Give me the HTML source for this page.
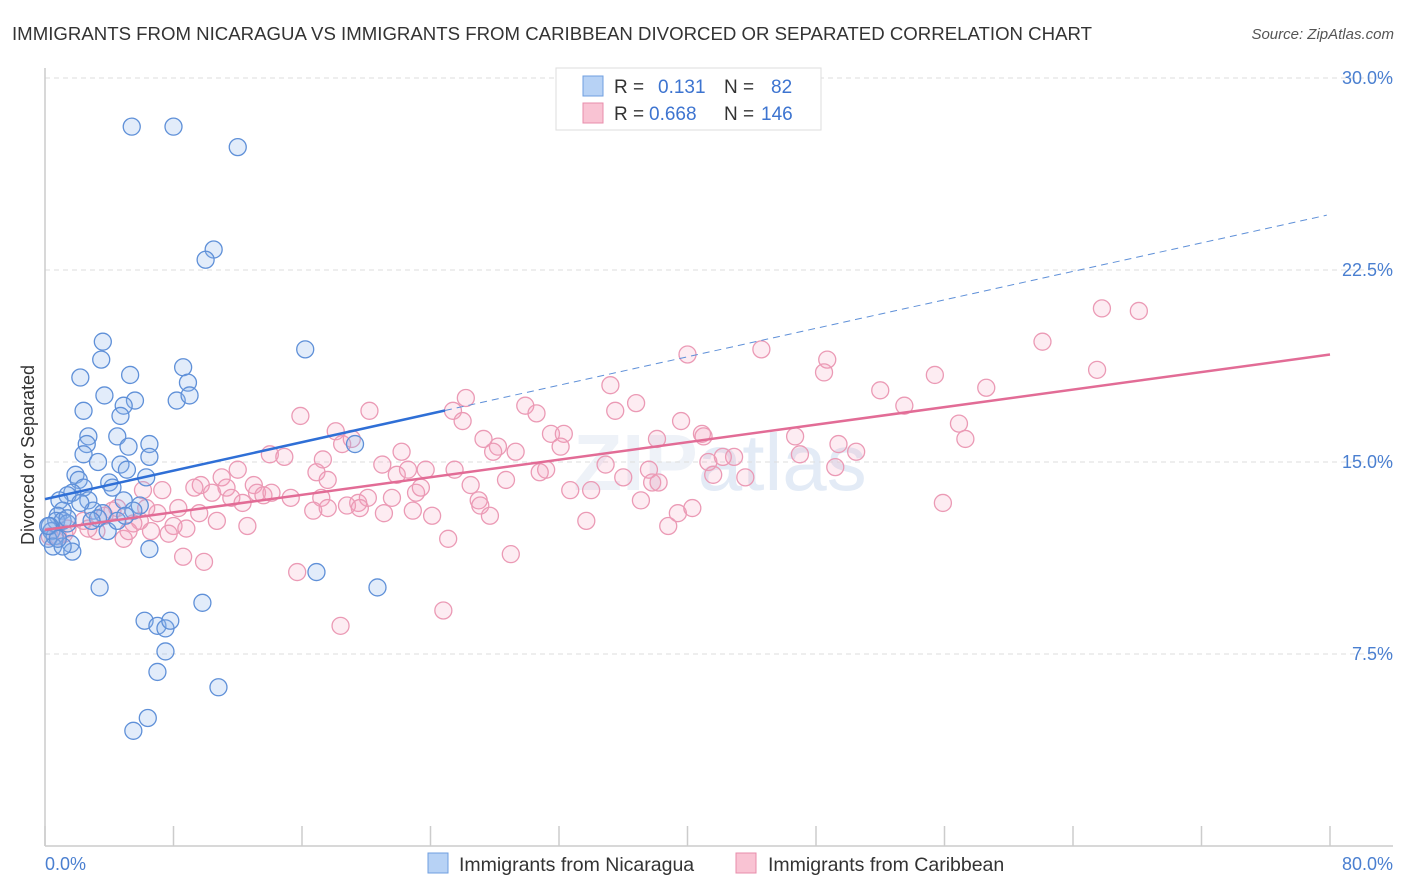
<!DOCTYPE html>
<html><head><meta charset="utf-8"><style>
body{margin:0;background:#fff;font-family:"Liberation Sans",sans-serif}
svg{display:block}
</style></head><body>
<svg id="chart" width="1406" height="892" xmlns="http://www.w3.org/2000/svg">
<text x="12" y="40" font-size="18.6" fill="#333" textLength="1080" lengthAdjust="spacingAndGlyphs">IMMIGRANTS FROM NICARAGUA VS IMMIGRANTS FROM CARIBBEAN DIVORCED OR SEPARATED CORRELATION CHART</text>
<text x="1394" y="39" font-size="15" fill="#555" font-style="italic" text-anchor="end">Source: ZipAtlas.com</text>
<text x="0" y="0" transform="translate(34,455) rotate(-90)" font-size="18" fill="#333" text-anchor="middle">Divorced or Separated</text>
<text x="720" y="490" font-size="80" fill="#eef2f8" text-anchor="middle" font-weight="bold">ZIP<tspan font-weight="normal" fill="#e3ebf6">atlas</tspan></text>
<g id="grid"></g><g id="axes"></g><g id="pts"></g><g id="trends"></g>
<g>
<rect x="556" y="68" width="265" height="62" fill="#fff" stroke="#ddd"/>
<rect x="583" y="76" width="20" height="20" fill="#b7d2f5" stroke="#6f9fe0"/>
<rect x="583" y="103" width="20" height="20" fill="#f9c3d3" stroke="#e88dab"/>
<text x="614" y="93" font-size="19" fill="#333">R = <tspan x="658" fill="#3d74d0">0.131</tspan><tspan x="724" fill="#333">N = </tspan><tspan x="771" fill="#3d74d0">82</tspan></text>
<text x="614" y="120" font-size="19" fill="#333">R = <tspan x="649" fill="#3d74d0">0.668</tspan><tspan x="724" fill="#333">N = </tspan><tspan x="761" fill="#3d74d0">146</tspan></text>
</g>
<g>
<rect x="428" y="853" width="20" height="20" fill="#b7d2f5" stroke="#6f9fe0"/>
<text x="459" y="871" font-size="19.5" fill="#333">Immigrants from Nicaragua</text>
<rect x="736" y="853" width="20" height="20" fill="#f9c3d3" stroke="#e88dab"/>
<text x="768" y="871" font-size="19.5" fill="#333">Immigrants from Caribbean</text>
</g>
</svg>
<script>
const yTicks=[7.5,15,22.5,30];
const yTickLabels=["7.5%","15.0%","22.5%","30.0%"];
const xTicks=[0,8,16,24,32,40,48,56,64,72,80];
const xEndLabels=["0.0%","80.0%"];
const nicX=[5.4,8.0,12.0,10.5,10.0,16.2,3.6,3.5,2.2,5.3,8.6,8.9,8.2,9.0,3.7,5.6,4.9,4.7,2.4,2.7,2.6,4.5,6.5,5.2,6.5,2.4,3.3,4.7,5.1,6.3,1.9,2.1,4.0,4.2,2.4,1.7,1.4,2.7,4.9,5.9,0.9,1.1,3.0,3.6,3.3,0.8,0.7,1.1,0.3,0.4,1.4,2.9,3.9,4.5,5.5,0.6,0.2,0.5,1.6,1.7,1.1,6.5,19.3,16.9,20.7,3.4,6.2,7.0,7.5,7.8,9.8,7.5,7.0,10.8,6.4,5.5,0.8,0.2,1.4,2.2,5.0];
const nicY=[28.1,28.1,27.3,23.3,22.9,19.4,19.7,19.0,18.3,18.4,18.7,18.1,17.4,17.6,17.6,17.4,17.2,16.8,17.0,16.0,15.7,16.0,15.7,15.6,15.2,15.3,15.0,14.9,14.7,14.4,14.5,14.3,14.2,14.0,14.0,13.8,13.7,13.5,13.5,13.3,13.5,13.1,13.1,13.0,12.8,12.9,12.7,12.7,12.5,12.3,12.6,12.7,12.3,12.7,13.1,12.1,12.0,11.7,11.8,11.5,11.7,11.6,15.7,10.7,10.1,10.1,8.8,8.6,8.5,8.8,9.5,7.6,6.8,6.2,5.0,4.5,12.0,12.5,12.8,13.4,12.9];
const carX=[65.8,68.1,62.1,65.5,48.7,48.5,44.6,40.0,55.4,58.6,52.0,53.5,35.2,26.2,25.4,36.8,35.5,29.9,30.6,39.6,26.0,20.2,15.9,18.1,18.5,19.1,27.3,28.2,29.3,31.5,32.3,32.1,27.9,22.2,21.0,17.3,14.0,14.9,16.9,17.6,12.0,11.0,9.7,7.3,6.1,9.3,10.4,11.3,13.0,13.2,13.6,14.1,15.3,17.2,17.6,16.7,18.8,19.5,20.1,21.6,23.1,23.4,21.9,22.6,23.7,25.5,26.5,27.0,27.1,27.7,28.7,31.2,30.8,32.7,34.0,33.7,34.9,36.0,37.6,37.8,37.1,38.2,38.8,39.4,40.3,41.3,41.6,42.2,42.9,43.6,40.9,38.1,41.0,46.7,47.0,49.2,49.4,50.5,56.9,57.3,55.9,11.6,12.3,8.3,9.6,10.7,12.6,8.0,7.0,6.6,5.9,5.5,4.9,5.2,3.2,2.7,4.5,4.2,2.4,1.4,1.2,0.8,0.3,8.6,9.9,15.7,24.8,18.4,29.0,25.1,24.1,22.9,21.1,19.6,7.7,8.8,6.3,3.7];
const carY=[21.0,20.9,19.7,18.6,19.0,18.5,19.4,19.2,18.4,17.9,17.8,17.2,18.0,17.5,17.0,17.3,17.0,17.2,16.9,16.6,16.6,17.0,16.8,16.2,15.7,15.9,15.9,15.6,15.4,16.1,16.1,15.6,15.4,15.4,14.9,15.1,15.3,15.2,14.6,14.3,14.7,14.4,14.1,13.9,13.9,14.0,13.8,14.0,14.1,13.8,13.7,13.8,13.6,13.6,13.2,13.1,13.3,13.4,13.6,13.6,13.8,14.0,14.5,14.7,14.7,14.7,14.1,13.5,13.3,12.9,14.3,14.7,14.6,13.9,13.9,12.7,14.9,14.4,14.7,14.2,13.5,14.2,12.5,13.0,13.2,15.0,14.5,15.2,15.2,14.4,16.1,15.9,16.0,16.0,15.3,14.8,15.7,15.4,16.5,15.9,13.4,13.6,13.4,13.2,13.0,12.7,12.5,12.5,13.0,12.3,12.7,12.6,12.0,12.3,12.3,12.4,13.2,13.1,12.7,12.4,12.2,12.1,12.1,11.3,11.1,10.7,9.2,8.6,11.4,12.0,12.9,13.1,13.0,13.2,12.2,12.4,13.2,12.9];
const nicTrend=[13.55,0.139,24.9,79.8];
const carTrend=[12.35,0.0856,0,80];
const NS="http://www.w3.org/2000/svg";
const sx=v=>45+v/80*1285;
const sy=v=>846-v/30*768;
function mk(tag,parent,attrs){const e=document.createElementNS(NS,tag);for(const k in attrs)e.setAttribute(k,attrs[k]);document.getElementById(parent).appendChild(e);return e;}
yTicks.forEach((t,i)=>{
  const l=mk('line','grid',{x1:45,x2:1393,y1:sy(t),y2:sy(t),stroke:'#ddd','stroke-dasharray':'5,4'});
  
  
  const tx=mk('text','axes',{x:1393,y:sy(t)+6,'font-size':18,fill:'#4a7fd0','text-anchor':'end'});
  tx.textContent=yTickLabels[i];
  
  
});
const yl=mk('line','axes',{x1:45,x2:45,y1:68,y2:846,stroke:'#ccc','stroke-width':1.5});


const xl=mk('line','axes',{x1:45,x2:1393,y1:846,y2:846,stroke:'#ccc','stroke-width':1.5});


xTicks.forEach(t=>{
  const l=mk('line','axes',{x1:sx(t),x2:sx(t),y1:826,y2:846,stroke:'#ccc','stroke-width':1.5});
  
  
});
const x0=mk('text','axes',{x:45,y:870,'font-size':18,fill:'#4a7fd0'});
x0.textContent=xEndLabels[0];


const x1=mk('text','axes',{x:1393,y:870,'font-size':18,fill:'#4a7fd0','text-anchor':'end'});
x1.textContent=xEndLabels[1];


carX.forEach((x,i)=>{
  const c=mk('circle','pts',{cx:sx(x),cy:sy(carY[i]),r:8.5,fill:'rgba(244,160,190,0.2)',stroke:'#eb9ab5','stroke-width':1.3});
  
  
});
nicX.forEach((x,i)=>{
  const c=mk('circle','pts',{cx:sx(x),cy:sy(nicY[i]),r:8.5,fill:'rgba(140,180,235,0.25)',stroke:'#5f90d8','stroke-width':1.3});
  
  
});
const f=(t,x)=>t[0]+t[1]*x;
const bt=mk('line','trends',{x1:sx(0),y1:sy(f(nicTrend,0)),x2:sx(nicTrend[2]),y2:sy(f(nicTrend,nicTrend[2])),stroke:'#2f6fd6','stroke-width':2.5});


const bd=mk('line','trends',{x1:sx(nicTrend[2]),y1:sy(f(nicTrend,nicTrend[2])),x2:sx(nicTrend[3]),y2:sy(f(nicTrend,nicTrend[3])),stroke:'#5f90d8','stroke-width':1,'stroke-dasharray':'7,5'});


const pt=mk('line','trends',{x1:sx(carTrend[2]),y1:sy(f(carTrend,carTrend[2])),x2:sx(carTrend[3]),y2:sy(f(carTrend,carTrend[3])),stroke:'#e26c96','stroke-width':2.5});


</script>
</body></html>
